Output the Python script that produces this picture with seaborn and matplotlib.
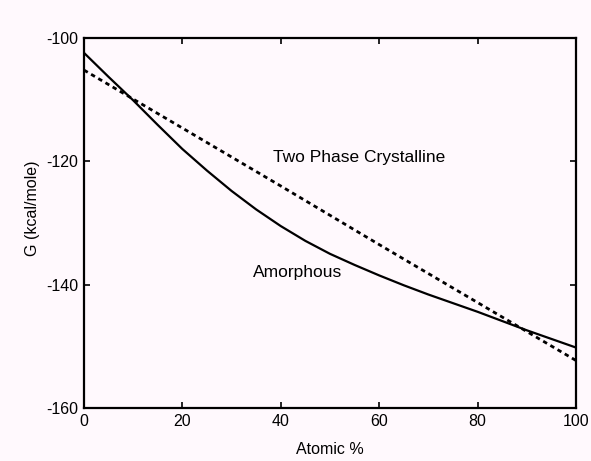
import matplotlib
matplotlib.use("Agg")
import matplotlib.pyplot as plt
import seaborn as sns
import pandas as pd
from matplotlib import font_manager

# Free energy of mixing vs composition
atomic_pct = [0, 5, 10, 15, 20, 25, 30, 35, 40, 45, 50,
              55, 60, 65, 70, 75, 80, 85, 90, 95, 100]
g_amorphous = [-102.4, -106.3, -110.1, -114.1, -118.0, -121.5, -124.8,
               -127.8, -130.5, -132.9, -135.0, -136.8, -138.5, -140.1,
               -141.6, -143.0, -144.4, -145.9, -147.4, -148.8, -150.2]
crystal_pct = [0, 20, 40, 60, 80, 100]
g_crystalline = [-105.2, -114.6, -124.0, -133.5, -142.9, -152.3]

x_ticks = [0, 20, 40, 60, 80, 100]
y_ticks = [-100, -120, -140, -160]

sns.set_theme(style="ticks")
names = {f.name for f in font_manager.fontManager.ttflist}
fam = [f for f in ["Liberation Sans Narrow", "Liberation Sans", "DejaVu Sans"] if f in names]
plt.rcParams["font.family"] = fam
plt.rcParams["text.color"] = "black"
plt.rcParams["axes.labelcolor"] = "black"

bg = "#fff9fd"
fig = plt.figure(figsize=(5.91, 4.61), dpi=100, facecolor=bg)
ax = fig.add_axes([0.142, 0.115, 0.8326, 0.8026])
ax.set_facecolor(bg)

amor = pd.DataFrame({"x": atomic_pct, "g": g_amorphous})
crys = pd.DataFrame({"x": crystal_pct, "g": g_crystalline})
sns.lineplot(data=amor, x="x", y="g", ax=ax, color="black", linewidth=1.6)
sns.lineplot(data=crys, x="x", y="g", ax=ax, color="black", linewidth=2.0,
             linestyle=(0, (1.6, 1.4)))

ax.set_xlim(0, 100)
ax.set_ylim(-160, -100)
ax.set_xticks(x_ticks)
ax.set_yticks(y_ticks)
ax.set_xticklabels([str(v) for v in x_ticks], fontsize=11.5)
ax.set_yticklabels([f"-{abs(v)}" for v in y_ticks], fontsize=11.5)
ax.tick_params(direction="in", length=4, width=1.2, top=True, right=True,
               colors="black", labelcolor="black", pad=4)
for s in ax.spines.values():
    s.set_linewidth(1.6)
    s.set_color("black")

ax.set_xlabel("Atomic %", fontsize=11.5, labelpad=10)
ax.set_ylabel("G (kcal/mole)", fontsize=11.5)
ax.yaxis.set_label_coords(-0.09, 0.54)

ax.text(38.4, -119.3, "Two Phase Crystalline", fontsize=12.5, va="center", ha="left")
ax.text(34.3, -138.1, "Amorphous", fontsize=12.5, va="center", ha="left")

fig.savefig("out.png", dpi=100, facecolor=bg)
